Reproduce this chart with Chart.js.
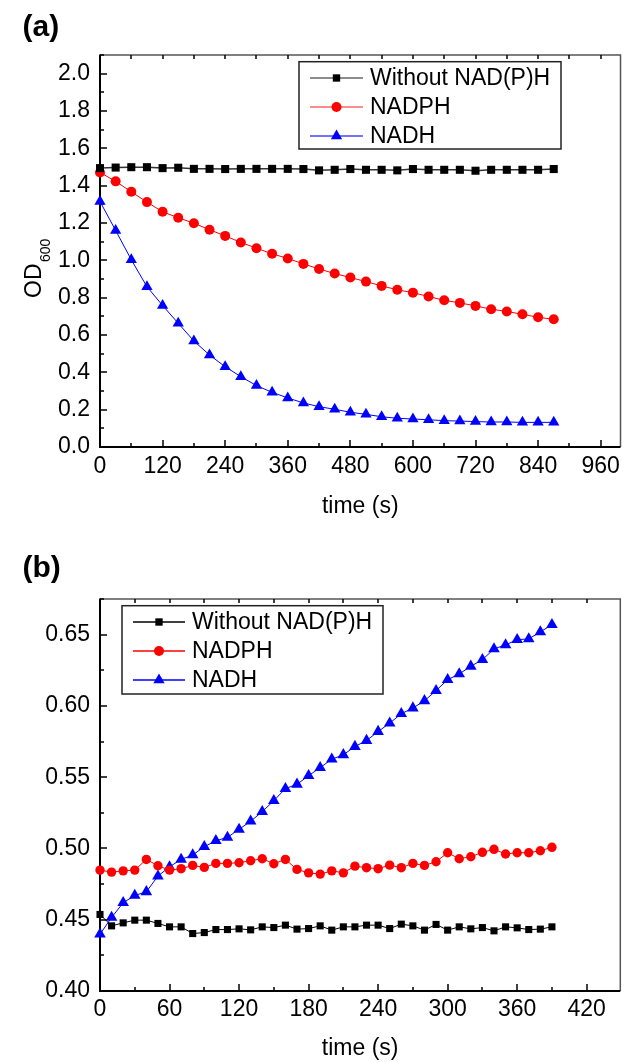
<!DOCTYPE html>
<html><head><meta charset="utf-8">
<script src="https://cdn.jsdelivr.net/npm/chart.js@4.4.1/dist/chart.umd.min.js"></script>
<style>
html,body{margin:0;padding:0;background:#fff;}
body{width:627px;height:1062px;position:relative;overflow:hidden;}
.wrap{position:absolute;left:0;width:627px;}
</style></head>
<body>
<div class="wrap" style="top:0;height:530px"><canvas id="ca" width="627" height="530"></canvas></div>
<div class="wrap" style="top:530px;height:532px"><canvas id="cb" width="627" height="532"></canvas></div>
<script>
// ---------- Panel (a) data ----------
const timeA = [0,30,60,90,120,150,180,210,240,270,300,330,360,390,420,450,480,510,540,570,600,630,660,690,720,750,780,810,840,870];
const withoutA = [1.494,1.497,1.499,1.499,1.494,1.496,1.490,1.490,1.489,1.490,1.490,1.490,1.490,1.489,1.482,1.485,1.489,1.485,1.485,1.482,1.489,1.485,1.485,1.485,1.480,1.485,1.485,1.485,1.485,1.489];
const nadphA = [1.471,1.423,1.367,1.312,1.260,1.228,1.199,1.164,1.131,1.096,1.065,1.035,1.010,0.981,0.954,0.929,0.908,0.886,0.863,0.842,0.827,0.806,0.786,0.772,0.756,0.738,0.726,0.711,0.695,0.684];
const nadhA = [1.315,1.160,1.003,0.859,0.758,0.663,0.568,0.493,0.430,0.377,0.329,0.293,0.263,0.236,0.216,0.202,0.186,0.175,0.162,0.154,0.150,0.146,0.141,0.139,0.136,0.134,0.134,0.132,0.132,0.132];

// ---------- Panel (b) data ----------
const timeB = [0,10,20,30,40,50,60,70,80,90,100,110,120,130,140,150,160,170,180,190,200,210,220,230,240,250,260,270,280,290,300,310,320,330,340,350,360,370,380,390];
const withoutB = [0.4537,0.4457,0.4478,0.4497,0.4497,0.4474,0.4450,0.4450,0.4403,0.4410,0.4431,0.4431,0.4436,0.4429,0.4450,0.4445,0.4462,0.4434,0.4438,0.4457,0.4427,0.4450,0.4450,0.4462,0.4462,0.4438,0.4469,0.4457,0.4427,0.4467,0.4427,0.4450,0.4436,0.4445,0.4422,0.4450,0.4443,0.4431,0.4434,0.4450];
const nadphB = [0.4848,0.4834,0.4843,0.4848,0.4923,0.4879,0.4848,0.4858,0.4881,0.4867,0.4895,0.4895,0.4900,0.4914,0.4928,0.4893,0.4923,0.4853,0.4829,0.4820,0.4843,0.4829,0.4876,0.4865,0.4858,0.4883,0.4865,0.4895,0.4881,0.4907,0.4970,0.4928,0.4942,0.4973,0.4994,0.4961,0.4970,0.4970,0.4984,0.5008];
const nadhB = [0.4398,0.4516,0.4619,0.4670,0.4696,0.4806,0.4871,0.4923,0.4954,0.5012,0.5054,0.5078,0.5134,0.5191,0.5258,0.5335,0.5420,0.5450,0.5510,0.5567,0.5626,0.5657,0.5715,0.5757,0.5820,0.5879,0.5945,0.5985,0.6036,0.6107,0.6184,0.6224,0.6278,0.6324,0.6400,0.6428,0.6465,0.6470,0.6519,0.6570];

const seriesNames = ['Without NAD(P)H','NADPH','NADH'];
const xTicksA = {min:0, max:998, step:120, minor:60};
const yTicksA = {min:0, max:2.1, step:0.2, minor:0.1, dec:1};
const xTicksB = {min:0, max:449, step:60, minor:30};
const yTicksB = {min:0.40, max:0.675, step:0.05, minor:0.025, dec:2};

const FONT = '"Liberation Sans", Arial, sans-serif';

function pts(xs, ys){ return xs.map((t,i)=>({x:t, y:ys[i]})); }

function drawMarker(ctx, style, x, y, r, color){
  ctx.fillStyle = color;
  ctx.beginPath();
  if (style==='rect'){ const s=r*Math.SQRT1_2; ctx.rect(x-s,y-s,2*s,2*s); }
  else if (style==='circle'){ ctx.arc(x,y,r,0,Math.PI*2); }
  else { const w=r*Math.sin(Math.PI/3);
    ctx.moveTo(x,y-r); ctx.lineTo(x+w,y+r/2); ctx.lineTo(x-w,y+r/2); ctx.closePath(); }
  ctx.fill();
}

const framePlugin = {
  id:'frame',
  beforeDatasetsDraw(chart, args, o){
    const {ctx, chartArea:{left,right,top,bottom}, scales:{x,y}} = chart;
    ctx.save();
    ctx.lineCap='butt';
    // top & right border
    ctx.strokeStyle='#555'; ctx.lineWidth=1.5;
    ctx.beginPath(); ctx.moveTo(left,top); ctx.lineTo(right,top); ctx.lineTo(right,bottom); ctx.stroke();
    // ticks
    ctx.strokeStyle='#000'; ctx.lineWidth=1.5;
    ctx.beginPath();
    const nx = Math.floor((o.x.max - o.x.min)/o.x.minor + 1e-6);
    for(let k=0;k<=nx;k++){
      const v = o.x.min + k*o.x.minor;
      const px = Math.round(x.getPixelForValue(v))+0.0;
      const major = (k % Math.round(o.x.step/o.x.minor))===0;
      const L = major?7:4;
      ctx.moveTo(px,bottom); ctx.lineTo(px,bottom-L);
      ctx.moveTo(px,top); ctx.lineTo(px,top+4);
    }
    const ny = Math.floor((o.y.max - o.y.min)/o.y.minor + 1e-6);
    for(let k=0;k<=ny;k++){
      const v = o.y.min + k*o.y.minor;
      const py = Math.round(y.getPixelForValue(v));
      const major = (k % Math.round(o.y.step/o.y.minor))===0;
      const L = major?7:4;
      ctx.moveTo(left,py); ctx.lineTo(left+L,py);
    }
    ctx.stroke();
    // left & bottom axis lines
    ctx.lineWidth=2; ctx.strokeStyle='#000';
    ctx.beginPath(); ctx.moveTo(left,top-0.5); ctx.lineTo(left,bottom); ctx.lineTo(right,bottom); ctx.stroke();
    ctx.restore();
  },
  afterDraw(chart, args, o){
    const ctx = chart.ctx;
    ctx.save();
    // panel label
    ctx.fillStyle='#000';
    ctx.font='bold 30px '+FONT; ctx.textBaseline='alphabetic'; ctx.textAlign='left';
    ctx.fillText(o.panel.text, o.panel.x, o.panel.y);
    // y title with subscript
    ctx.save();
    ctx.translate(o.yt.x, o.yt.y); ctx.rotate(-Math.PI/2);
    ctx.font='23px '+FONT; ctx.fillText('OD',0,0);
    const w = ctx.measureText('OD').width;
    ctx.font='14px '+FONT; ctx.fillText(o.yt.sub, w+1.5, 9);
    ctx.restore();
    // legend
    const L = o.legend;
    ctx.strokeStyle='#222'; ctx.lineWidth=1.5;
    ctx.strokeRect(L.x0, L.y0, L.x1-L.x0, L.y1-L.y0);
    chart.data.datasets.forEach((ds,i)=>{
      const yy = L.rows[i];
      ctx.strokeStyle = L.lineColors[i]; ctx.lineWidth=1.5;
      ctx.beginPath(); ctx.moveTo(L.lx0,yy); ctx.lineTo(L.lx1,yy); ctx.stroke();
      drawMarker(ctx, ds.pointStyle, (L.lx0+L.lx1)/2, yy, L.radii[i], ds.pointBackgroundColor);
      ctx.fillStyle='#000'; ctx.font='23px '+FONT; ctx.textBaseline='middle';
      ctx.fillText(ds.label, L.tx, yy+1);
    });
    ctx.restore();
  }
};

function makeChart(id, cfg){
  const mk = (label, data, color, style, r, lw, lineColor) => ({
    label, data, borderColor: lineColor, backgroundColor: color,
    pointBackgroundColor: color, pointBorderColor: color, pointBorderWidth: 0,
    pointStyle: style, pointRadius: r, pointHoverRadius: r, borderWidth: lw,
    tension: 0, clip: false, fill: false
  });
  return new Chart(document.getElementById(id), {
    type:'line',
    data:{ datasets:[
      mk(seriesNames[0], pts(cfg.t, cfg.s[0]), '#000000', 'rect', cfg.r[0], cfg.lw[0], cfg.lc[0]),
      mk(seriesNames[1], pts(cfg.t, cfg.s[1]), '#ff0000', 'circle', cfg.r[1], 1, '#ff0000'),
      mk(seriesNames[2], pts(cfg.t, cfg.s[2]), '#0000ff', 'triangle', cfg.r[2], 1, '#0000ff')
    ]},
    options:{
      responsive:false, animation:false, devicePixelRatio:1,
      layout:{padding:{top:cfg.padTop, right:1, left:0, bottom:0}},
      plugins:{ legend:{display:false}, tooltip:{enabled:false},
        frame:{ x:cfg.xt, y:cfg.yt, panel:cfg.panel, yt:cfg.ytitle, legend:cfg.legend } },
      scales:{
        x:{ type:'linear', min:cfg.xt.min, max:cfg.xt.max,
            grid:{display:false, drawTicks:false}, border:{display:false},
            ticks:{ stepSize:cfg.xt.step, includeBounds:false, color:'#000', padding:cfg.xPad,
                    font:{family:FONT, size:23}, maxRotation:0, autoSkip:false,
                    callback:(v)=>String(Math.round(v)) },
            title:{ display:true, text:'time (s)', color:'#000', font:{family:FONT, size:23},
                    padding:{top:0, bottom:cfg.xTitlePad} },
            afterFit:(s)=>{ s.height = cfg.xHeight; } },
        y:{ type:'linear', min:cfg.yt.min, max:cfg.yt.max,
            grid:{display:false, drawTicks:false}, border:{display:false},
            ticks:{ stepSize:cfg.yt.step, includeBounds:false, color:'#000', padding:10,
                    font:{family:FONT, size:23}, autoSkip:false,
                    callback:(v)=>Number(v).toFixed(cfg.yt.dec) },
            afterFit:(s)=>{ s.width = 100; } }
      }
    },
    plugins:[framePlugin]
  });
}

makeChart('ca', {
  t: timeA, s:[withoutA, nadphA, nadhA], r:[5.7,5,6.5], lw:[1.5], lc:['#333333'],
  xt:xTicksA, yt:yTicksA, padTop:55, xHeight:83, xPad:6, xTitlePad:10,
  panel:{text:'(a)', x:22.5, y:35.7},
  ytitle:{x:40.5, y:298, sub:'600'},
  legend:{x0:299, y0:61.7, x1:561, y1:149, rows:[78,107,136], lx0:310, lx1:363, tx:370,
          radii:[5.2,5,6.5], lineColors:['#666666','#ff6666','#4444ff']}
});
makeChart('cb', {
  t: timeB, s:[withoutB, nadphB, nadhB], r:[5,4.7,6.7], lw:[1], lc:['#000000'],
  xt:xTicksB, yt:yTicksB, padTop:69, xHeight:71, xPad:4.5, xTitlePad:0,
  panel:{text:'(b)', x:22.5, y:46.7},
  ytitle:{x:28.3, y:843, sub:'550'},
  legend:{x0:122, y0:75.7, x1:383, y1:164, rows:[92,121,150], lx0:133, lx1:185, tx:192,
          radii:[5.2,5,6.5], lineColors:['#000000','#ff0000','#0000ff']}
});
</script>
</body></html>
